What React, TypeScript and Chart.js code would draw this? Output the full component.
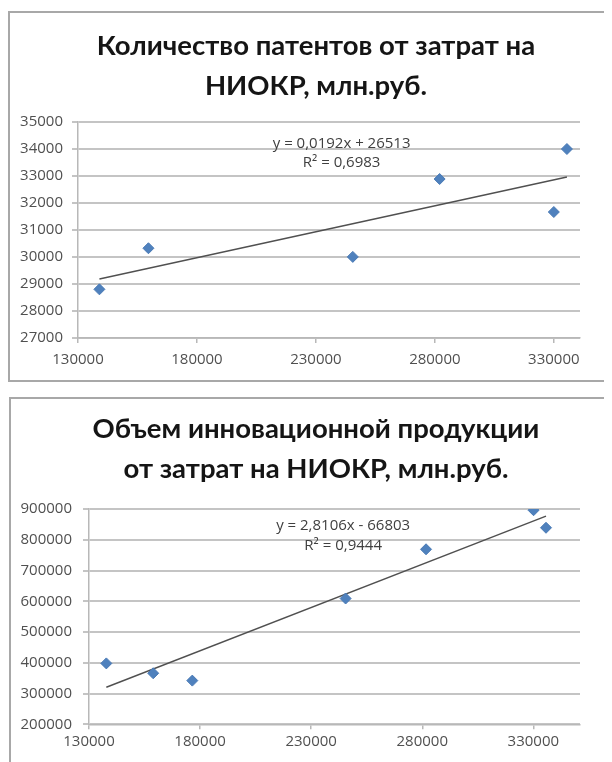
import React, { useEffect, useRef } from "react";
import { Chart, registerables } from "chart.js";

Chart.register(...registerables);

// ---------- Data ----------
const patentTitle = ["Количество патентов от затрат на", "НИОКР, млн.руб."];
const patentCosts = [139000, 159600, 245500, 282000, 330000, 335500];
const patentCounts = [28800, 30320, 30000, 32880, 31660, 33990];
const patentTrend = [0.0192, 26513]; // slope, intercept
const patentEquation = ["y = 0,0192x + 26513", "R² = 0,6983"];
const patentYTicks = [27000, 28000, 29000, 30000, 31000, 32000, 33000, 34000, 35000];

const productTitle = ["Объем инновационной продукции", "от затрат на НИОКР, млн.руб."];
const productCosts = [137800, 158900, 176500, 245500, 281700, 330100, 335700];
const productVolume = [398000, 366000, 342000, 609000, 769000, 896000, 839000];
const productTrend = [2.8106, -66803];
const productEquation = ["y = 2,8106x - 66803", "R² = 0,9444"];
const productYTicks = [200000, 300000, 400000, 500000, 600000, 700000, 800000, 900000];

const xTicks = [130000, 180000, 230000, 280000, 330000];

type PanelProps = {
  title: string[];
  xs: number[];
  ys: number[];
  trend: number[];
  equation: string[];
  eqAnchor: [number, number, number]; // x, y line1, y line2 (data units)
  yTicks: number[];
  xMax: number;
  box: { left: number; top: number; width: number; height: number };
  plot: { left: number; right: number; top: number; bottom: number };
  titleCenter: number;
  titleY: [number, number];
  yPad: number;
  xPad: number;
};

function Panel(p: PanelProps) {
  const ref = useRef<HTMLCanvasElement | null>(null);
  const cw = p.box.width - 4;
  const ch = p.box.height - 4;

  useEffect(() => {
    if (!ref.current) return;
    const xmin = Math.min(...p.xs);
    const xmax = Math.max(...p.xs);
    const trendPts = [
      { x: xmin, y: p.trend[0] * xmin + p.trend[1] },
      { x: xmax, y: p.trend[0] * xmax + p.trend[1] },
    ];
    const textPlugin = {
      id: "texts",
      afterDatasetsDraw(chart: any) {
        const ctx = chart.ctx;
        const xs = chart.scales.x;
        const ys = chart.scales.y;
        ctx.save();
        ctx.textAlign = "center";
        ctx.textBaseline = "middle";
        // regression equation
        ctx.fillStyle = "#404040";
        ctx.font = "15px 'Open Sans'";
        const px = xs.getPixelForValue(p.eqAnchor[0]);
        ctx.fillText(p.equation[0], px, ys.getPixelForValue(p.eqAnchor[1]));
        ctx.fillText(p.equation[1], px, ys.getPixelForValue(p.eqAnchor[2]));
        // chart title
        ctx.fillStyle = "#151515";
        ctx.font = "bold 27.5px Lato";
        ctx.fillText(p.title[0], p.titleCenter, p.titleY[0]);
        ctx.fillText(p.title[1], p.titleCenter, p.titleY[1]);
        ctx.restore();
      },
    };
    const chart = new Chart(ref.current, {
      type: "scatter",
      data: {
        datasets: [
          {
            data: p.xs.map((x, i) => ({ x, y: p.ys[i] })),
            pointStyle: "rectRot",
            pointRadius: 5.5,
            pointBackgroundColor: "#4f81bd",
            pointBorderColor: "#4a7ab5",
            pointBorderWidth: 1,
            order: 1,
          },
          {
            data: trendPts,
            showLine: true,
            pointRadius: 0,
            borderColor: "#505050",
            borderWidth: 1.4,
            order: 2,
          } as any,
        ],
      },
      options: {
        responsive: false,
        animation: false,
        devicePixelRatio: 1,
        layout: { padding: { left: 0, right: cw - p.plot.right, top: p.plot.top, bottom: 0 } },
        plugins: {
          legend: { display: false },
          tooltip: { enabled: false },
          title: { display: false },
        },
        scales: {
          x: {
            type: "linear",
            min: 130000,
            max: p.xMax,
            afterBuildTicks: (s: any) => {
              s.ticks = xTicks.map((v) => ({ value: v }));
            },
            afterFit: (s: any) => {
              s.height = ch - p.plot.bottom;
            },
            grid: {
              drawOnChartArea: false,
              drawTicks: true,
              tickLength: 5,
              color: "#b8b8b8",
              lineWidth: 1.5,
            },
            border: { display: true, color: "#b8b8b8", width: 1.5 },
            ticks: {
              padding: p.xPad,
              color: "#505050",
              font: { family: "Open Sans", size: 15 },
              maxRotation: 0,
              autoSkip: false,
              callback: (v: any) => String(v),
            },
          },
          y: {
            type: "linear",
            min: p.yTicks[0],
            max: p.yTicks[p.yTicks.length - 1],
            afterBuildTicks: (s: any) => {
              s.ticks = p.yTicks.map((v) => ({ value: v }));
            },
            afterFit: (s: any) => {
              s.width = p.plot.left;
            },
            grid: {
              drawTicks: true,
              tickLength: 6,
              color: "#c4c4c4",
              lineWidth: 2,
            },
            border: { display: true, color: "#b8b8b8", width: 1.5 },
            ticks: {
              padding: p.yPad,
              color: "#505050",
              font: { family: "Open Sans", size: 15 },
              autoSkip: false,
              callback: (v: any) => String(v),
            },
          },
        },
      },
      plugins: [textPlugin],
    });
    return () => chart.destroy();
  }, []);

  return (
    <div
      style={{
        position: "absolute",
        left: p.box.left,
        top: p.box.top,
        width: p.box.width,
        height: p.box.height,
        border: "2px solid #a8a8a8",
        boxSizing: "border-box",
        background: "#fff",
      }}
    >
      <canvas ref={ref} width={cw} height={ch} style={{ display: "block", width: cw, height: ch }} />
    </div>
  );
}

export default function App() {
  return (
    <div style={{ position: "relative", width: 596, height: 754, overflow: "hidden", background: "#fff" }}>
      <Panel
        title={patentTitle}
        xs={patentCosts}
        ys={patentCounts}
        trend={patentTrend}
        equation={patentEquation}
        eqAnchor={[240800, 34175, 33473]}
        yTicks={patentYTicks}
        xMax={341000}
        box={{ left: 0, top: 3, width: 602, height: 371 }}
        plot={{ left: 68, right: 570, top: 108.7, bottom: 325 }}
        titleCenter={306}
        titleY={[33, 73]}
        yPad={9}
        xPad={8}
      />
      <Panel
        title={productTitle}
        xs={productCosts}
        ys={productVolume}
        trend={productTrend}
        equation={productEquation}
        eqAnchor={[244400, 844700, 779700]}
        yTicks={productYTicks}
        xMax={351000}
        box={{ left: 1, top: 389, width: 601, height: 373 }}
        plot={{ left: 78, right: 569, top: 110, bottom: 325.3 }}
        titleCenter={305}
        titleY={[30, 70]}
        yPad={11}
        xPad={3}
      />
    </div>
  );
}
